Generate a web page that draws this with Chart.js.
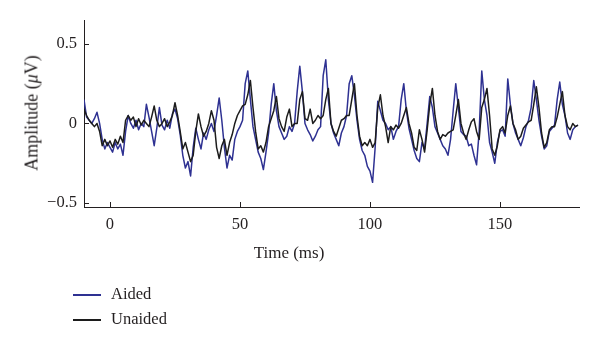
<!DOCTYPE html>
<html>
<head>
<meta charset="utf-8">
<script src="https://cdn.jsdelivr.net/npm/chart.js@4.4.1/dist/chart.umd.min.js"></script>
<style>
    body { margin: 0; background: #fff; }
    #wrap { position: relative; width: 600px; height: 351px; font-family: "Liberation Serif", "DejaVu Serif", serif; color: #231f20; }
    #wrap canvas { position: absolute; left: 0; top: 0; }
    .ytitle { position: absolute; left: 32px; top: 113px; font-size: 18px; white-space: nowrap; transform: translate(-50%, -50%) rotate(-90deg); }
    .xtitle { position: absolute; left: 289px; top: 253px; font-size: 17px; white-space: nowrap; transform: translate(-50%, -50%); }
    .legend { position: absolute; left: 73px; top: 281px; font-size: 16.5px; }
    .legend div { height: 25px; line-height: 25px; white-space: nowrap; }
    .legend span.sw { display: inline-block; width: 28px; height: 2px; vertical-align: middle; margin-right: 10px; }
</style>
</head>
<body>
<div id="wrap">
    <canvas id="erp" width="600" height="351"></canvas>
    <div class="ytitle">Amplitude (<i>μ</i>V)</div>
    <div class="xtitle">Time (ms)</div>
    <div class="legend" id="legend"></div>
</div>
<script>
// timp in ms, un punct pe milisecunda: -10 .. 180
var timeMs = [];
for (var t = -10; t <= 180; t++) timeMs.push(t);

var aided = [
    0.15, 0.04, 0.02, 0.00, 0.03, 0.07, 0.00, -0.10, -0.16, -0.12,
    -0.15, -0.18, -0.12, -0.16, -0.13, -0.20, -0.05, 0.05, 0.00, -0.03,
    0.02, -0.04, 0.00, -0.02, 0.12, 0.04, -0.05, -0.14, -0.03, 0.10,
    -0.01, -0.04, 0.02, -0.03, 0.06, 0.09, 0.03, -0.07, -0.20, -0.28,
    -0.24, -0.33, -0.15, -0.03, -0.10, -0.16, -0.06, -0.10, -0.04, 0.00,
    -0.05, 0.05, 0.16, 0.02, -0.15, -0.28, -0.20, -0.23, -0.10, -0.05,
    -0.02, 0.02, 0.25, 0.33, 0.15, -0.02, -0.10, -0.18, -0.22, -0.29,
    -0.18, -0.06, 0.12, 0.25, 0.08, -0.02, -0.06, -0.10, -0.08, -0.02,
    -0.05, 0.00, 0.20, 0.36, 0.20, 0.00, -0.04, -0.07, -0.11, -0.08,
    -0.04, -0.02, 0.30, 0.40, 0.15, 0.00, -0.06, -0.10, -0.14, -0.06,
    -0.02, 0.05, 0.25, 0.30, 0.18, 0.02, -0.10, -0.17, -0.20, -0.27,
    -0.30, -0.37, -0.15, 0.14, 0.08, 0.02, 0.00, -0.04, -0.02, -0.10,
    -0.05, -0.02, 0.15, 0.25, 0.08, -0.03, -0.10, -0.17, -0.22, -0.24,
    -0.12, -0.16, 0.00, 0.17, 0.10, -0.02, -0.06, -0.10, -0.14, -0.16,
    -0.20, -0.10, 0.08, 0.25, 0.10, -0.05, -0.07, -0.08, -0.14, -0.13,
    -0.20, -0.26, -0.05, 0.33, 0.15, 0.05, -0.12, -0.18, -0.25, -0.12,
    -0.05, -0.04, -0.08, 0.28, 0.12, 0.00, -0.06, -0.10, -0.14, -0.09,
    -0.02, 0.02, 0.10, 0.27, 0.15, 0.02, -0.08, -0.16, -0.14, -0.05,
    -0.03, -0.01, 0.15, 0.26, 0.12, 0.05, -0.06, -0.10, -0.04, -0.02,
    -0.01
];

var unaided = [
    0.09, 0.05, 0.02, 0.00, -0.02, 0.00, -0.05, -0.14, -0.10, -0.14,
    -0.11, -0.15, -0.10, -0.13, -0.08, -0.12, 0.02, 0.05, 0.02, 0.04,
    -0.02, 0.03, -0.01, 0.02, 0.00, -0.02, 0.04, 0.11, 0.02, -0.02,
    0.00, 0.03, -0.02, 0.01, 0.05, 0.13, 0.05, -0.05, -0.16, -0.12,
    -0.18, -0.24, -0.20, -0.05, 0.06, -0.02, -0.08, -0.05, 0.00, 0.08,
    0.02, -0.15, -0.22, -0.14, -0.10, -0.20, -0.12, -0.07, 0.00, 0.05,
    0.08, 0.11, 0.12, 0.18, 0.27, 0.10, -0.05, -0.16, -0.14, -0.18,
    -0.12, -0.02, 0.03, 0.08, 0.17, 0.03, -0.02, -0.05, 0.04, 0.09,
    -0.02, 0.00, 0.00, 0.15, 0.20, 0.03, 0.02, 0.09, 0.00, 0.02,
    0.05, 0.03, 0.05, 0.15, 0.22, 0.00, -0.05, -0.08, -0.03, 0.02,
    0.03, 0.05, 0.05, 0.15, 0.25, 0.05, -0.08, -0.14, -0.12, -0.14,
    -0.10, -0.15, -0.12, 0.10, 0.18, 0.05, -0.02, -0.12, -0.02, -0.04,
    -0.01, -0.03, 0.00, 0.05, 0.10, 0.00, -0.06, -0.15, -0.17, -0.04,
    -0.10, -0.18, -0.04, 0.12, 0.22, 0.05, -0.05, -0.10, -0.07, -0.08,
    -0.06, -0.05, -0.04, 0.05, 0.15, 0.00, -0.06, -0.10, -0.04, 0.01,
    0.03, -0.05, -0.10, 0.10, 0.15, 0.22, 0.05, -0.16, -0.20, -0.14,
    -0.04, -0.02, -0.06, 0.05, 0.11, 0.00, -0.04, -0.10, -0.08, -0.03,
    -0.01, 0.01, 0.02, 0.12, 0.23, 0.10, -0.06, -0.15, -0.12, -0.04,
    -0.02, -0.02, 0.04, 0.12, 0.20, 0.05, -0.02, -0.04, 0.00, -0.02,
    -0.01
];

var xTicks = [0, 50, 100, 150];
var yTicks = [-0.5, 0, 0.5];
var yTickLabels = ['\u22120.5', '0', '0.5'];

var seriesNames = ['Aided', 'Unaided'];
var seriesColors = ['#2e3192', '#1c1c1c'];

function toPoints(values) {
    return values.map(function (v, i) { return { x: timeMs[i], y: v }; });
}

// liniute de tick orientate spre interior, ca in matlab
var inwardTicks = {
    id: 'inwardTicks',
    afterDatasetsDraw: function (chart) {
        var ctx = chart.ctx, area = chart.chartArea;
        var xs = chart.scales.x, ys = chart.scales.y;
        ctx.save();
        ctx.strokeStyle = '#231f20';
        ctx.lineWidth = 1;
        xs.ticks.forEach(function (t) {
            var px = Math.round(xs.getPixelForValue(t.value)) + 0.5;
            ctx.beginPath();
            ctx.moveTo(px, area.bottom);
            ctx.lineTo(px, area.bottom - 5);
            ctx.stroke();
        });
        ys.ticks.forEach(function (t) {
            var py = Math.round(ys.getPixelForValue(t.value)) + 0.5;
            ctx.beginPath();
            ctx.moveTo(area.left, py);
            ctx.lineTo(area.left + 5, py);
            ctx.stroke();
        });
        ctx.restore();
    }
};

var ctx = document.getElementById('erp').getContext('2d');
var erpChart = new Chart(ctx, {
    type: 'line',
    data: {
        datasets: [{
            label: seriesNames[0],
            data: toPoints(aided),
            borderColor: seriesColors[0],
            borderWidth: 1.5,
            order: 2
        }, {
            label: seriesNames[1],
            data: toPoints(unaided),
            borderColor: seriesColors[1],
            borderWidth: 1.5,
            order: 1
        }]
    },
    options: {
        responsive: false,
        animation: false,
        events: [],
        layout: {
            padding: { top: 20, right: 21, bottom: 84, left: 0 }
        },
        elements: {
            point: { radius: 0 },
            line: { tension: 0, fill: false, borderJoinStyle: 'round' }
        },
        plugins: {
            legend: { display: false },
            tooltip: { enabled: false },
            title: { display: false }
        },
        scales: {
            x: {
                type: 'linear',
                min: -10,
                max: 180.4,
                afterBuildTicks: function (scale) {
                    scale.ticks = xTicks.map(function (v) { return { value: v }; });
                },
                afterFit: function (scale) { scale.height = 60; },
                grid: { display: false, drawTicks: false },
                border: { display: true, color: '#231f20', width: 1 },
                ticks: {
                    color: '#231f20',
                    padding: 8,
                    maxRotation: 0,
                    font: { family: 'Liberation Serif', size: 16.5 }
                }
            },
            y: {
                min: -0.525,
                max: 0.65,
                afterBuildTicks: function (scale) {
                    scale.ticks = yTicks.map(function (v) { return { value: v }; });
                },
                afterFit: function (scale) { scale.width = 84; },
                grid: { display: false, drawTicks: false },
                border: { display: true, color: '#231f20', width: 1 },
                ticks: {
                    color: '#231f20',
                    padding: 7,
                    font: { family: 'Liberation Serif', size: 16.5 },
                    callback: function (value) {
                        var i = yTicks.indexOf(value);
                        return i >= 0 ? yTickLabels[i] : '';
                    }
                }
            }
        }
    },
    plugins: [inwardTicks]
});

// legenda in html, verticala, sub grafic
var legendHtml = '';
seriesNames.forEach(function (name, i) {
    legendHtml += '<div><span class="sw" style="background:' + seriesColors[i] + '"></span>' + name + '</div>';
});
document.getElementById('legend').innerHTML = legendHtml;
</script>
</body>
</html>
